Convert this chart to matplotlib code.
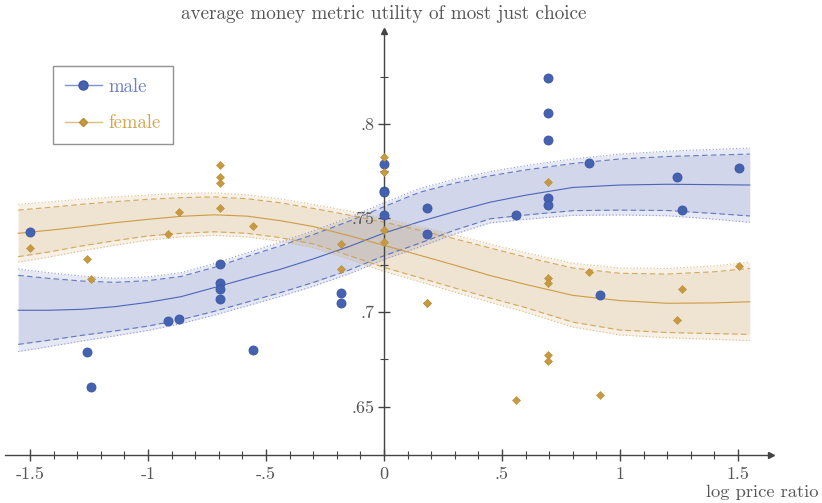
import matplotlib
matplotlib.use("Agg")
import matplotlib.pyplot as plt
from matplotlib.lines import Line2D
from matplotlib.ticker import FixedLocator

plt.rcParams['font.family'] = ['cmr10', 'DejaVu Serif']
plt.rcParams['axes.unicode_minus'] = False

# observations (log price ratio, utility)
male_x = [-1.50, -1.26, -1.24, -0.914, -0.867, -0.693, -0.693, -0.693, -0.693, -0.555,
          -0.182, -0.182, 0.0, 0.0, 0.0, 0.0, 0.182, 0.182, 0.558,
          0.693, 0.693, 0.693, 0.693, 0.693, 0.870, 0.917, 1.240, 1.263, 1.506]
male_y = [0.7425, 0.6788, 0.6604, 0.6954, 0.6965, 0.7256, 0.7154, 0.7125, 0.7071, 0.6802,
          0.7102, 0.7048, 0.7786, 0.7645, 0.7636, 0.7516, 0.7553, 0.7415, 0.7514,
          0.8241, 0.8055, 0.7912, 0.7608, 0.7569, 0.7793, 0.7093, 0.7716, 0.7541, 0.7763]

female_x = [-1.50, -1.26, -1.24, -0.914, -0.867, -0.693, -0.693, -0.693, -0.693, -0.555,
            -0.182, -0.182, 0.0, 0.0, 0.0, 0.0, 0.182, 0.182, 0.558,
            0.693, 0.693, 0.693, 0.693, 0.693, 0.870, 0.917, 1.240, 1.263, 1.506]
female_y = [0.7339, 0.7281, 0.7177, 0.7415, 0.7530, 0.7783, 0.7719, 0.7687, 0.7555, 0.7459,
            0.7362, 0.7231, 0.7825, 0.7744, 0.7438, 0.7373, 0.7051, 0.7049, 0.6537,
            0.7693, 0.7180, 0.7157, 0.6775, 0.6743, 0.7215, 0.6562, 0.6959, 0.7124, 0.7247]

# fitted curves with inner (dashed) and outer (dotted) bands
fit_x = [-1.55, -1.42, -1.28, -1.14, -1.0, -0.86, -0.72, -0.58, -0.44, -0.30, -0.15,
         0.0, 0.15, 0.30, 0.45, 0.60, 0.80, 1.0, 1.2, 1.4, 1.55]

male_fit = [0.7011, 0.7011, 0.7016, 0.7030, 0.7053, 0.7083, 0.7131, 0.7180, 0.7228, 0.7283, 0.7348,
            0.7420, 0.7480, 0.7534, 0.7584, 0.7621, 0.7662, 0.7675, 0.7679, 0.7677, 0.7675]
male_hi = [0.7196, 0.7180, 0.7166, 0.7159, 0.7168, 0.7190, 0.7238, 0.7296, 0.7352, 0.7412, 0.7482,
           0.7560, 0.7636, 0.7685, 0.7724, 0.7755, 0.7789, 0.7813, 0.7826, 0.7834, 0.7839]
male_lo = [0.6830, 0.6852, 0.6878, 0.6901, 0.6927, 0.6961, 0.7005, 0.7054, 0.7104, 0.7158, 0.7223,
           0.7300, 0.7366, 0.7436, 0.7496, 0.7516, 0.7539, 0.7542, 0.7540, 0.7524, 0.7511]
male_hi2 = [0.7230, 0.7210, 0.7192, 0.7180, 0.7188, 0.7210, 0.7258, 0.7316, 0.7372, 0.7432, 0.7502,
            0.7580, 0.7656, 0.7706, 0.7746, 0.7778, 0.7813, 0.7839, 0.7854, 0.7864, 0.7871]
male_lo2 = [0.6792, 0.6818, 0.6848, 0.6875, 0.6904, 0.6940, 0.6985, 0.7034, 0.7084, 0.7138, 0.7203,
            0.7280, 0.7346, 0.7415, 0.7474, 0.7493, 0.7514, 0.7516, 0.7512, 0.7494, 0.7477]

female_fit = [0.7419, 0.7435, 0.7454, 0.7475, 0.7493, 0.7509, 0.7517, 0.7510, 0.7486, 0.7455, 0.7407,
              0.7355, 0.7303, 0.7250, 0.7195, 0.7148, 0.7090, 0.7062, 0.7048, 0.7050, 0.7056]
female_hi = [0.7542, 0.7556, 0.7573, 0.7587, 0.7599, 0.7608, 0.7612, 0.7602, 0.7581, 0.7551, 0.7516,
             0.7478, 0.7436, 0.7390, 0.7341, 0.7293, 0.7235, 0.7207, 0.7203, 0.7215, 0.7233]
female_lo = [0.7295, 0.7320, 0.7352, 0.7380, 0.7405, 0.7419, 0.7427, 0.7419, 0.7396, 0.7363, 0.7302,
             0.7238, 0.7184, 0.7129, 0.7076, 0.7025, 0.6948, 0.6906, 0.6893, 0.6887, 0.6883]
female_hi2 = [0.7573, 0.7585, 0.7600, 0.7612, 0.7622, 0.7630, 0.7633, 0.7623, 0.7602, 0.7572, 0.7537,
              0.7498, 0.7456, 0.7410, 0.7362, 0.7316, 0.7260, 0.7235, 0.7233, 0.7246, 0.7266]
female_lo2 = [0.7266, 0.7293, 0.7326, 0.7356, 0.7383, 0.7400, 0.7408, 0.7400, 0.7377, 0.7343, 0.7282,
              0.7217, 0.7163, 0.7107, 0.7053, 0.7001, 0.6922, 0.6880, 0.6865, 0.6857, 0.6850]

x_major = [-1.5, -1.0, -0.5, 0.0, 0.5, 1.0, 1.5]
x_labels = ['-1.5', '-1', '-.5', '0', '.5', '1', '1.5']
y_major = [0.65, 0.70, 0.75, 0.80]
y_labels = ['.65', '.7', '.75', '.8']
y_minor = [0.675, 0.725, 0.775, 0.825]

txt = '#555555'
axc = '#444444'
blue = '#4562b1'
gold = '#c89a40'

fig = plt.figure(figsize=(8.22, 5.03), dpi=100)
ax = fig.add_axes([0, 0, 1, 1])
ax.set_xlim(-1.627, 1.856)
ax.set_ylim(0.5989, 0.8656)

# bands
ax.fill_between(fit_x, male_lo2, male_hi2, color='#535faf', alpha=0.14, lw=0, zorder=1)
ax.fill_between(fit_x, male_lo, male_hi, color='#535faf', alpha=0.13, lw=0, zorder=1)
ax.fill_between(fit_x, female_lo2, female_hi2, color='#c3974f', alpha=0.14, lw=0, zorder=1)
ax.fill_between(fit_x, female_lo, female_hi, color='#c3974f', alpha=0.13, lw=0, zorder=1)

for lo2, lo, fit, hi, hi2, c, cl in [
        (male_lo2, male_lo, male_fit, male_hi, male_hi2, '#4a66b8', '#8d9ad4'),
        (female_lo2, female_lo, female_fit, female_hi, female_hi2, '#cc9c45', '#dcbc84')]:
    ax.plot(fit_x, fit, color=c, lw=0.8, zorder=2)
    ax.plot(fit_x, hi, color=c, lw=0.8, ls=(0, (5, 3)), alpha=0.85, zorder=2)
    ax.plot(fit_x, lo, color=c, lw=0.8, ls=(0, (5, 3)), alpha=0.85, zorder=2)
    ax.plot(fit_x, hi2, color=cl, lw=0.8, ls=(0, (1, 2)), zorder=2)
    ax.plot(fit_x, lo2, color=cl, lw=0.8, ls=(0, (1, 2)), zorder=2)

ax.plot(male_x, male_y, 'o', ms=6.5, color=blue, mec='#3a55a3', mew=0.6, zorder=4)
ax.plot(female_x, female_y, 'D', ms=3.6, color=gold, mec='#b98a35', mew=0.4, zorder=5)

# axes through the origin
for s in ['top', 'right']:
    ax.spines[s].set_visible(False)
ax.spines['left'].set_position(('data', 0))
ax.spines['bottom'].set_position(('data', 0.6243))
ax.spines['left'].set_bounds(0.6243, 0.848)
ax.spines['bottom'].set_bounds(-1.606, 1.63)
for s in ['left', 'bottom']:
    ax.spines[s].set_color(axc)
    ax.spines[s].set_linewidth(1.0)
    ax.spines[s].set_zorder(3)
ax.plot([1.64], [0.6243], '>', ms=5, color=axc, clip_on=False, zorder=3)
ax.plot([0], [0.849], '^', ms=5, color=axc, clip_on=False, zorder=3)

ax.xaxis.set_major_locator(FixedLocator(x_major))
ax.xaxis.set_minor_locator(FixedLocator([i / 10 for i in range(-15, 16)]))
ax.set_xticklabels(x_labels)
ax.yaxis.set_major_locator(FixedLocator(y_major))
ax.yaxis.set_minor_locator(FixedLocator(y_minor))
ax.set_yticklabels(y_labels)
ax.tick_params(which='major', direction='inout', length=8, width=1, color=axc,
               labelsize=13, labelcolor=txt)
ax.tick_params(which='minor', direction='inout', length=6, width=0.8, color=axc)
ax.tick_params(axis='x', pad=4)
ax.tick_params(axis='y', pad=3)
ax.patch.set_alpha(0)

ax.text(0, 1 - 14 / 503, 'average money metric utility of most just choice',
        transform=ax.get_xaxis_transform(), ha='center', va='center',
        fontsize=13.8, color=txt)
ax.text(818 / 822, 1 - 492 / 503, 'log price ratio', transform=ax.transAxes,
        ha='right', va='center', fontsize=13.3, color=txt)

handles = [Line2D([], [], color='#7f93d2', lw=1, marker='o', ms=6.5, mfc=blue, mec='#3a55a3'),
           Line2D([], [], color='#dcbd80', lw=1, marker='D', ms=3.6, mfc=gold, mec='#b98a35')]
leg = ax.legend(handles, ['male', 'female'], loc='upper left',
                bbox_to_anchor=(53 / 822, 1 - 66 / 503), fontsize=13.5,
                labelcolor=['#6a80c6', '#d2a650'], frameon=True, fancybox=False,
                edgecolor='#777777', handlelength=2.0, labelspacing=1.0,
                borderpad=0.62, handletextpad=0.35, borderaxespad=0)
leg.get_frame().set_linewidth(1.0)

fig.savefig('out.png', dpi=100)
